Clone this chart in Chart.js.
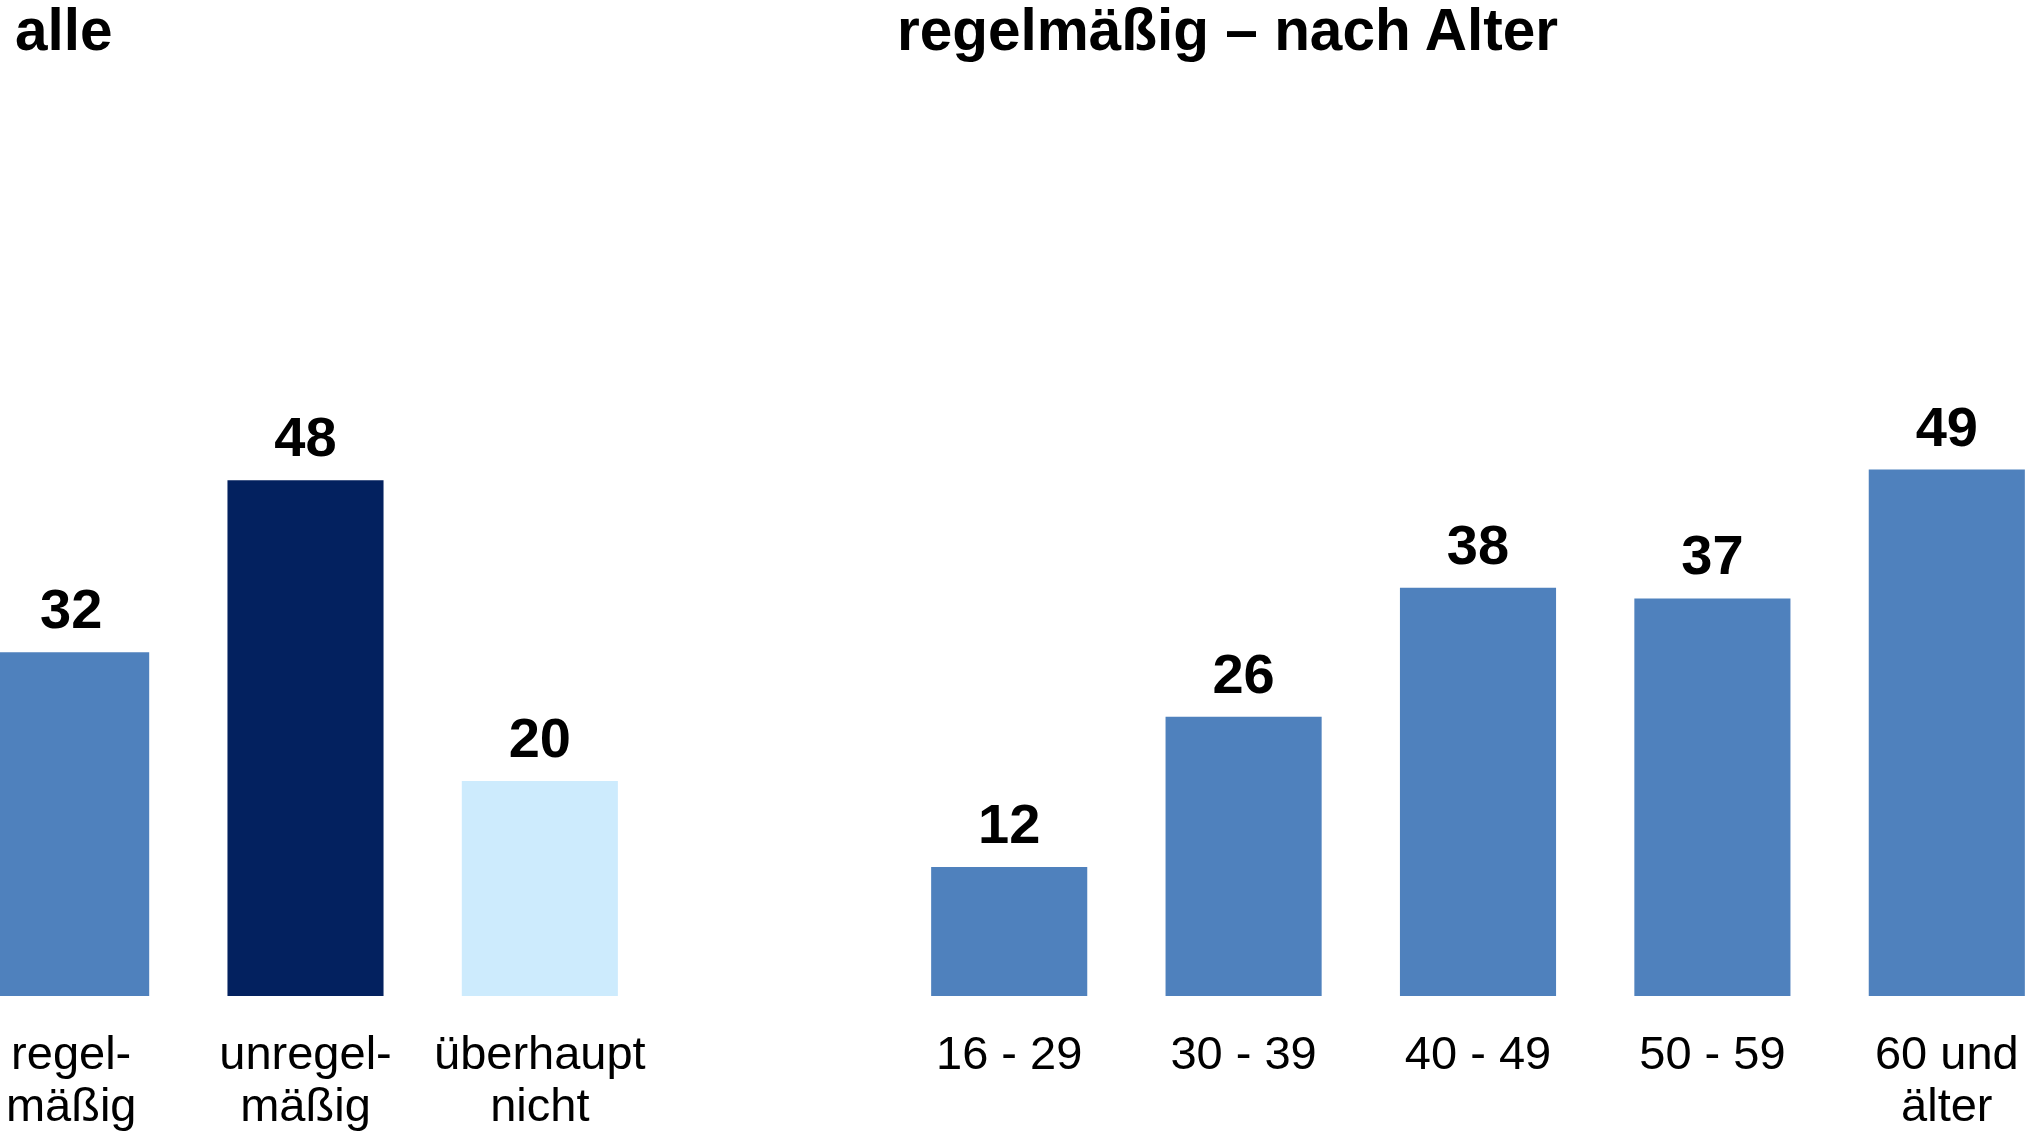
<!DOCTYPE html>
<html lang="de">
<head>
<meta charset="utf-8">
<title>regelmäßig – nach Alter</title>
<script src="https://cdn.jsdelivr.net/npm/chart.js@4.4.1/dist/chart.umd.min.js"></script>
<style>
    html, body {
        margin: 0;
        padding: 0;
        width: 2042px;
        height: 1133px;
        overflow: hidden;
        background: #ffffff;
        font-family: "Liberation Sans", Arial, sans-serif;
    }
    .title {
        position: absolute;
        top: 1px;
        font-size: 58.5px;
        line-height: 58px;
        font-weight: bold;
        color: #000000;
        white-space: nowrap;
    }
    .box {
        position: absolute;
        top: 0;
        height: 1133px;
    }
</style>
</head>
<body>
<div class="title" style="left: 15px;">alle</div>
<div class="title" style="left: 897px;">regelmäßig – nach Alter</div>

<div class="box" id="box-all" style="left: -46px; width: 703px;">
    <canvas id="chart-all"></canvas>
</div>
<div class="box" id="box-age" style="left: 892px; width: 1172px;">
    <canvas id="chart-age"></canvas>
</div>

<script>
// Data
const allLabels = [['regel-', 'mäßig'], ['unregel-', 'mäßig'], ['überhaupt', 'nicht']];
const allValues = [32, 48, 20];
const allColors = ['#4f81bd', '#03215f', '#cdebfd'];

const ageLabels = ['16 - 29', '30 - 39', '40 - 49', '50 - 59', ['60 und', 'älter']];
const ageValues = [12, 26, 38, 37, 49];
const ageColor = '#4f81bd';

const yMax = 92.7;

// Value labels above the bars
const valueLabels = {
    id: 'valueLabels',
    afterDatasetsDraw(chart) {
        const ctx = chart.ctx;
        const meta = chart.getDatasetMeta(0);
        const values = chart.data.datasets[0].data;
        ctx.save();
        ctx.font = 'bold 56px "Liberation Sans", Arial, sans-serif';
        ctx.fillStyle = '#000000';
        ctx.textAlign = 'center';
        ctx.textBaseline = 'alphabetic';
        meta.data.forEach((bar, i) => {
            ctx.fillText(String(values[i]), bar.x, bar.y - 24);
        });
        ctx.restore();
    }
};

function makeChart(canvasId, labels, values, colors) {
    const ctx = document.getElementById(canvasId).getContext('2d');
    return new Chart(ctx, {
        type: 'bar',
        data: {
            labels: labels,
            datasets: [{
                data: values,
                backgroundColor: colors,
                borderWidth: 0,
                categoryPercentage: 1,
                barPercentage: 0.666
            }]
        },
        options: {
            responsive: true,
            maintainAspectRatio: false,
            animation: false,
            layout: { padding: 0 },
            plugins: {
                legend: { display: false },
                tooltip: { enabled: false }
            },
            scales: {
                x: {
                    grid: { display: false, drawTicks: false },
                    border: { display: false },
                    ticks: {
                        color: '#000000',
                        padding: 34,
                        maxRotation: 0,
                        autoSkip: false,
                        font: {
                            family: '"Liberation Sans", Arial, sans-serif',
                            size: 47,
                            lineHeight: 1.1
                        }
                    },
                    // keep the plot area full width and the baseline at y = 996
                    afterFit(scale) {
                        scale.paddingLeft = 0;
                        scale.paddingRight = 0;
                        scale.height = 137;
                    }
                },
                y: {
                    display: false,
                    min: 0,
                    max: yMax
                }
            }
        },
        plugins: [valueLabels]
    });
}

document.addEventListener('DOMContentLoaded', () => {
    makeChart('chart-all', allLabels, allValues, allColors);
    makeChart('chart-age', ageLabels, ageValues, ageColor);
});
</script>
</body>
</html>
